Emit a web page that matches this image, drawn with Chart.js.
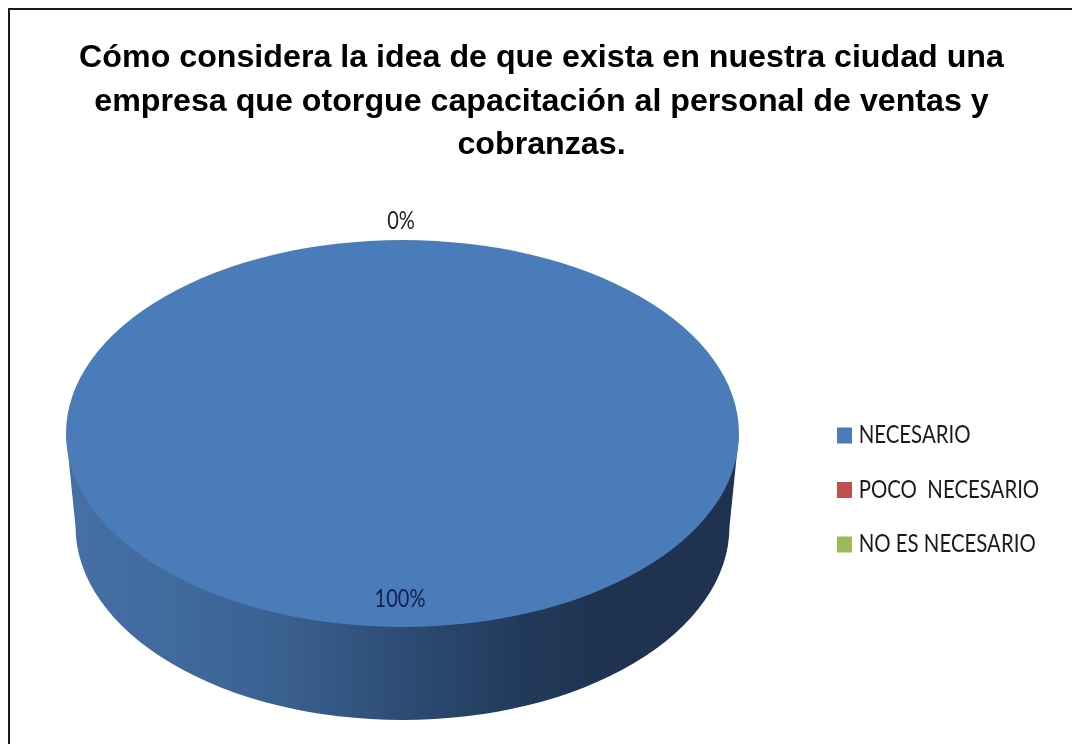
<!DOCTYPE html>
<html>
<head>
<meta charset="utf-8">
<style>
html,body{margin:0;padding:0;background:#fff;}
#wrap{position:relative;width:1072px;height:744px;}
canvas{display:block;}
</style>
<script src="https://cdn.jsdelivr.net/npm/chart.js@4"></script>
</head>
<body>
<div id="wrap"><canvas id="pie" width="1072" height="744"></canvas></div>
<script>
const categories = ['NECESARIO', 'POCO  NECESARIO', 'NO ES NECESARIO'];
const percentages = [100, 0, 0];
const sliceColors = ['#4a7cb9', '#c0504d', '#9bbb59'];
const titleLines = [
  'Cómo considera la idea de que exista en nuestra ciudad una',
  'empresa que otorgue capacitación al personal de ventas y',
  'cobranzas.'
];

// Where the tilted disc sits on the page
const disc = { cx: 402.5, cy: 433.5, rx: 336.5, ry: 193.5, depth: 93, rxBase: 327 };
const labelFont = 'Lato, sans-serif';
const legendStretch = 1.18;
const legendMidY = 490;

// Top and left rules of the figure's frame
const framePlugin = {
  id: 'frame',
  beforeDraw(chart) {
    const c = chart.ctx;
    c.save();
    c.strokeStyle = '#1a1a1a';
    c.lineWidth = 2;
    c.beginPath();
    c.moveTo(9, 744);
    c.lineTo(9, 9);
    c.lineTo(1072, 9);
    c.stroke();
    c.restore();
  }
};

// Squashes the round pie into an ellipse and paints the cylinder wall below it
const tiltPlugin = {
  id: 'tilt',
  afterLayout(chart) {
    const l = chart.legend;
    const dx = 814.7 - l.left;
    const dy = legendMidY - (l.top + l.bottom) / 2;
    l.left += dx; l.right += dx; l.top += dy; l.bottom += dy;
    // The legend text is tall and narrow: stretch it vertically about its middle
    if (!l.stretched) {
      const plainDraw = l.draw;
      l.draw = function () {
        const c = chart.ctx;
        c.save();
        c.translate(0, legendMidY);
        c.scale(1, legendStretch);
        c.translate(0, -legendMidY);
        plainDraw.call(l);
        c.restore();
      };
      l.stretched = true;
    }
  },
  beforeDatasetsDraw(chart) {
    const c = chart.ctx;
    const arc = chart.getDatasetMeta(0).data[0];
    const baseY = disc.cy + disc.depth;

    const g = c.createLinearGradient(disc.cx - disc.rx, 0, disc.cx + disc.rx, 0);
    g.addColorStop(0, '#466fa6');
    g.addColorStop(0.14, '#416b9e');
    g.addColorStop(0.32, '#3a6090');
    g.addColorStop(0.5, '#2c4c74');
    g.addColorStop(0.68, '#223a5a');
    g.addColorStop(0.8, '#1f3350');
    g.addColorStop(1, '#1f3350');

    c.save();
    c.beginPath();
    c.moveTo(disc.cx - disc.rx, disc.cy);
    c.lineTo(disc.cx - disc.rxBase, baseY);
    c.ellipse(disc.cx, baseY, disc.rxBase, disc.ry, 0, Math.PI, 0, true);
    c.lineTo(disc.cx + disc.rx, disc.cy);
    c.closePath();
    c.fillStyle = g;
    c.fill();
    c.restore();

    c.save();
    c.translate(disc.cx, disc.cy);
    c.scale(disc.rx / arc.outerRadius, disc.ry / arc.outerRadius);
    c.translate(-arc.x, -arc.y);
  },
  afterDatasetsDraw(chart) {
    chart.ctx.restore();
  }
};

// Percentage labels on the disc, drawn tall and narrow
const valueLabelPlugin = {
  id: 'valueLabels',
  afterDraw(chart) {
    const c = chart.ctx;
    const put = (text, x, y, color) => {
      c.save();
      c.translate(x, y);
      c.scale(1, 1.22);
      c.font = '20px ' + labelFont;
      c.textAlign = 'center';
      c.textBaseline = 'middle';
      c.fillStyle = color;
      c.fillText(text, 0, 0);
      c.restore();
    };
    put(percentages[0] + '%', 400, 599, '#10204f');
    put(percentages[1] + '%', 401, 221, '#222222');
  }
};

// Square legend keys are a small fill plus a thick same-colour outline, which keeps the text close
const legendItems = (chart) => {
  const base = Chart.controllers.doughnut.overrides.plugins.legend.labels.generateLabels(chart);
  return base.map((item, i) => ({ ...item, strokeStyle: sliceColors[i], lineWidth: 7 }));
};

new Chart(document.getElementById('pie'), {
  type: 'pie',
  data: {
    labels: categories,
    datasets: [{
      data: percentages,
      backgroundColor: sliceColors,
      borderWidth: 0,
      clip: false
    }]
  },
  options: {
    responsive: false,
    animation: false,
    layout: { padding: { top: 36, left: 11 } },
    plugins: {
      tooltip: { enabled: false },
      title: {
        display: true,
        text: titleLines,
        color: '#000000',
        font: { family: '"Liberation Sans", Arial, sans-serif', size: 32.2, weight: 'bold', lineHeight: 1.36 },
        padding: { top: 0, bottom: 10 }
      },
      legend: {
        position: 'right',
        onClick: null,
        labels: {
          boxWidth: 8,
          boxHeight: 6.6,
          padding: 25.8,
          color: '#1a1a1a',
          font: { family: labelFont, size: 20.4 },
          generateLabels: legendItems
        }
      }
    }
  },
  plugins: [framePlugin, tiltPlugin, valueLabelPlugin]
});
</script>
</body>
</html>
